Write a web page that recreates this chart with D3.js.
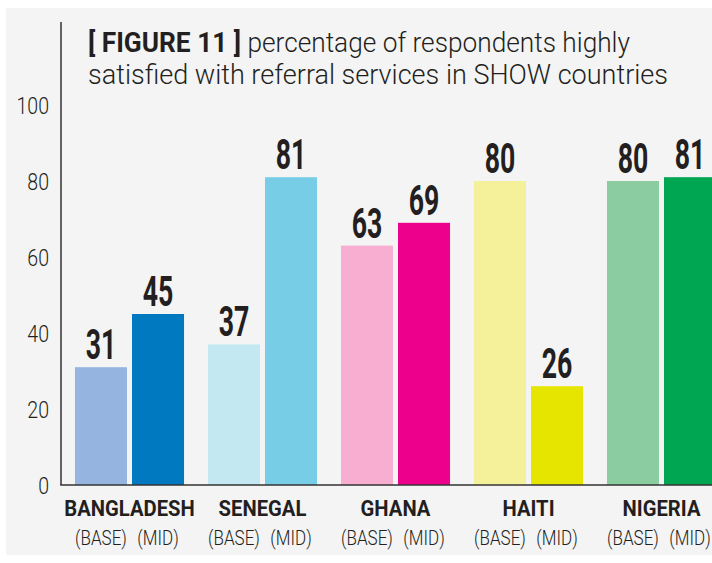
<!DOCTYPE html>
<html lang="en">
<head>
  <meta charset="UTF-8">
  <title>Figure 11</title>
  <script src="https://d3js.org/d3.v7.min.js"></script>
  <style>
    body { margin: 0; background: #fff; }
    svg { display: block; }
    text { font-family: Roboto, "Liberation Sans", sans-serif; fill: #231f20; }
  </style>
</head>
<body>
<div id="chart"></div>
<script>
  const countries = ["BANGLADESH", "SENEGAL", "GHANA", "HAITI", "NIGERIA"];
  const phases = ["BASE", "MID"];
  const baseValues = [31, 37, 63, 80, 80];
  const midValues = [45, 81, 69, 26, 81];
  const yTicks = [0, 20, 40, 60, 80, 100];
  const baseColors = ["#95b5e0", "#c4e8f2", "#f8aed0", "#f5f09a", "#8bcca0"];
  const midColors = ["#0079c1", "#78cde6", "#ec008c", "#e5e500", "#00a651"];

  const width = 712, height = 563;

  const svg = d3.select("#chart").append("svg")
    .attr("width", width).attr("height", height);

  // grey panel
  svg.append("rect")
    .attr("x", 6).attr("y", 8)
    .attr("width", width - 6).attr("height", 547)
    .attr("fill", "#f4f4f4");

  const x = d3.scaleBand().domain(countries).range([63, 728])
    .paddingInner(0.18).paddingOuter(0.09);
  const xInner = d3.scaleBand().domain(phases).range([0, x.bandwidth()])
    .paddingInner(0.088);
  const y = d3.scaleLinear().domain([0, 100]).range([485, 105]);

  const data = [];
  countries.forEach((c, i) => {
    data.push({ country: c, phase: "BASE", value: baseValues[i], color: baseColors[i] });
    data.push({ country: c, phase: "MID", value: midValues[i], color: midColors[i] });
  });
  const barCenter = d => x(d.country) + xInner(d.phase) + xInner.bandwidth() / 2;

  // bars
  svg.selectAll(".bar").data(data).enter()
    .append("rect")
    .attr("class", "bar")
    .attr("x", d => x(d.country) + xInner(d.phase))
    .attr("y", d => y(d.value))
    .attr("width", xInner.bandwidth())
    .attr("height", d => y(0) - y(d.value))
    .attr("fill", d => d.color);

  // value labels (narrowed to look condensed)
  svg.selectAll(".val").data(data).enter()
    .append("text")
    .attr("class", "val")
    .attr("transform", d => `translate(${barCenter(d)},${y(d.value) - 8}) scale(0.62,1)`)
    .attr("text-anchor", "middle")
    .attr("font-weight", "bold")
    .attr("font-size", 43)
    .text(d => d.value);

  // y axis
  const yAxis = d3.axisLeft(y).tickValues(yTicks).tickSize(0).tickPadding(12);
  const gy = svg.append("g").attr("transform", "translate(61,0)").call(yAxis);
  gy.select(".domain").remove();
  gy.selectAll("text")
    .attr("font-family", null)
    .attr("font-size", 23)
    .attr("font-weight", 300)
    .attr("fill", "#231f20")
    .attr("dy", "0.36em")
    .attr("transform", "scale(0.85,1)")
    .attr("x", -12 / 0.85);

  svg.append("line")
    .attr("x1", 61).attr("x2", 61)
    .attr("y1", 22).attr("y2", y(0))
    .attr("stroke", "#333").attr("stroke-width", 1.5);
  svg.append("line")
    .attr("x1", 60.25).attr("x2", width)
    .attr("y1", y(0)).attr("y2", y(0))
    .attr("stroke", "#333").attr("stroke-width", 1.5);

  // category labels
  svg.selectAll(".cat").data(countries).enter()
    .append("text")
    .attr("class", "cat")
    .attr("transform", d => `translate(${x(d) + x.bandwidth() / 2},516) scale(0.92,1)`)
    .attr("text-anchor", "middle")
    .attr("font-weight", "bold")
    .attr("font-size", 22)
    .text(d => d);

  svg.selectAll(".phase").data(data).enter()
    .append("text")
    .attr("class", "phase")
    .attr("transform", d => `translate(${barCenter(d)},545) scale(0.85,1)`)
    .attr("text-anchor", "middle")
    .attr("font-weight", 300)
    .attr("font-size", 20)
    .text(d => "(" + d.phase + ")");

  // title
  const title = svg.append("text")
    .attr("x", 88).attr("y", 52)
    .attr("font-size", 27)
    .attr("font-weight", 300)
    .attr("textLength", 542)
    .attr("lengthAdjust", "spacingAndGlyphs");
  title.append("tspan").attr("font-weight", "bold").text("[ FIGURE 11 ]");
  title.append("tspan").text(" percentage of respondents highly");
  svg.append("text")
    .attr("x", 88).attr("y", 84)
    .attr("font-size", 27)
    .attr("font-weight", 300)
    .attr("textLength", 580)
    .attr("lengthAdjust", "spacingAndGlyphs")
    .text("satisfied with referral services in SHOW countries");
</script>
</body>
</html>
